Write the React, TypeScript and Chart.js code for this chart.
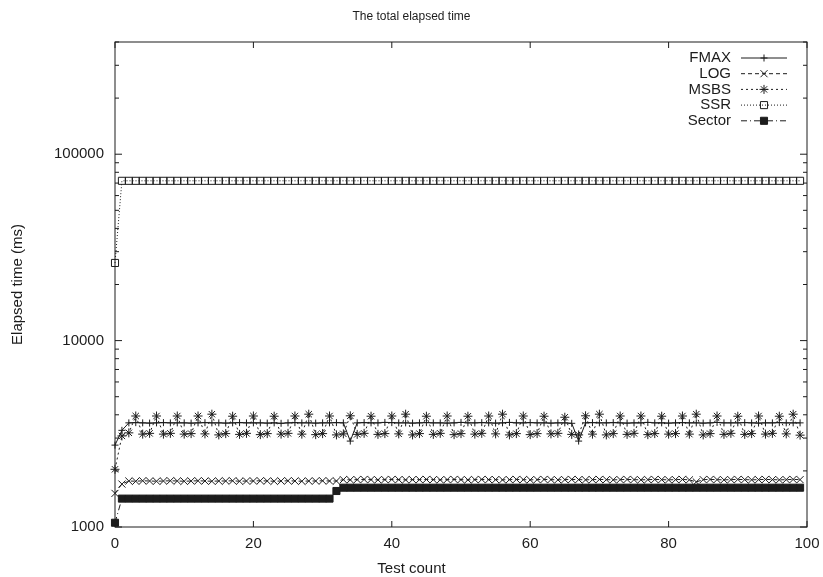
import React, { useEffect, useRef } from 'react';
import { Chart, registerables } from 'chart.js';

Chart.register(...registerables);

// ---------- data ----------
const testCount = [
  0, 1, 2, 3, 4, 5, 6, 7, 8, 9,
  10, 11, 12, 13, 14, 15, 16, 17, 18, 19,
  20, 21, 22, 23, 24, 25, 26, 27, 28, 29,
  30, 31, 32, 33, 34, 35, 36, 37, 38, 39,
  40, 41, 42, 43, 44, 45, 46, 47, 48, 49,
  50, 51, 52, 53, 54, 55, 56, 57, 58, 59,
  60, 61, 62, 63, 64, 65, 66, 67, 68, 69,
  70, 71, 72, 73, 74, 75, 76, 77, 78, 79,
  80, 81, 82, 83, 84, 85, 86, 87, 88, 89,
  90, 91, 92, 93, 94, 95, 96, 97, 98, 99,
];

const fmaxTimes = [
  2750, 3300, 3620, 3630, 3620, 3610, 3620, 3630, 3620, 3620,
  3620, 3610, 3620, 3630, 3620, 3620, 3610, 3620, 3630, 3620,
  3620, 3620, 3610, 3620, 3600, 3620, 3630, 3620, 3620, 3610,
  3620, 3620, 3630, 3620, 2890, 3620, 3630, 3620, 3620, 3640,
  3630, 3620, 3620, 3610, 3620, 3630, 3620, 3620, 3610, 3620,
  3640, 3620, 3620, 3630, 3620, 3610, 3620, 3640, 3620, 3620,
  3630, 3620, 3620, 3610, 3620, 3620, 3600, 2890, 3620, 3630,
  3620, 3620, 3630, 3620, 3610, 3620, 3620, 3640, 3620, 3620,
  3610, 3620, 3630, 3620, 3620, 3610, 3620, 3640, 3620, 3620,
  3620, 3630, 3620, 3610, 3620, 3620, 3630, 3620, 3620, 3620,
];

const logTimes = [
  1515, 1700, 1765, 1760, 1770, 1765, 1760, 1765, 1770, 1765,
  1760, 1765, 1770, 1765, 1760, 1765, 1765, 1770, 1760, 1765,
  1765, 1770, 1765, 1760, 1765, 1770, 1765, 1760, 1765, 1765,
  1770, 1765, 1765, 1795, 1790, 1795, 1800, 1795, 1790, 1795,
  1800, 1795, 1790, 1795, 1795, 1800, 1795, 1790, 1795, 1800,
  1795, 1790, 1795, 1800, 1795, 1795, 1790, 1795, 1800, 1795,
  1790, 1795, 1800, 1795, 1790, 1795, 1800, 1795, 1790, 1795,
  1800, 1795, 1790, 1795, 1800, 1795, 1790, 1795, 1800, 1795,
  1790, 1795, 1800, 1790, 1745, 1795, 1800, 1795, 1790, 1795,
  1800, 1795, 1790, 1795, 1800, 1795, 1790, 1795, 1800, 1795,
];

const msbsTimes = [
  2040, 3080, 3200, 3940, 3150, 3180, 3940, 3150, 3180, 3940,
  3150, 3170, 3940, 3160, 4030, 3120, 3170, 3930, 3140, 3180,
  3940, 3130, 3170, 3930, 3150, 3180, 3940, 3150, 4030, 3130,
  3170, 3940, 3120, 3160, 3950, 3140, 3180, 3930, 3140, 3170,
  3940, 3160, 4030, 3120, 3170, 3930, 3140, 3180, 3940, 3130,
  3170, 3930, 3150, 3180, 3940, 3160, 4030, 3120, 3170, 3940,
  3130, 3170, 3930, 3160, 3180, 3880, 3140, 3120, 3950, 3150,
  4030, 3120, 3170, 3940, 3140, 3180, 3940, 3130, 3170, 3930,
  3150, 3170, 3940, 3150, 4030, 3120, 3170, 3940, 3140, 3180,
  3930, 3140, 3170, 3940, 3150, 3180, 3930, 3160, 4030, 3110,
];

const ssrTimes = [
  26100, 72000, 72000, 72000, 72000, 72000, 72000, 72000, 72000, 72000,
  72000, 72000, 72000, 72000, 72000, 72000, 72000, 72000, 72000, 72000,
  72000, 72000, 72000, 72000, 72000, 72000, 72000, 72000, 72000, 72000,
  72000, 72000, 72000, 72000, 72000, 72000, 72000, 72000, 72000, 72000,
  72000, 72000, 72000, 72000, 72000, 72000, 72000, 72000, 72000, 72000,
  72000, 72000, 72000, 72000, 72000, 72000, 72000, 72000, 72000, 72000,
  72000, 72000, 72000, 72000, 72000, 72000, 72000, 72000, 72000, 72000,
  72000, 72000, 72000, 72000, 72000, 72000, 72000, 72000, 72000, 72000,
  72000, 72000, 72000, 72000, 72000, 72000, 72000, 72000, 72000, 72000,
  72000, 72000, 72000, 72000, 72000, 72000, 72000, 72000, 72000, 72000,
];

const sectorTimes = [
  1054, 1420, 1420, 1420, 1420, 1420, 1420, 1420, 1420, 1420,
  1420, 1420, 1420, 1420, 1420, 1420, 1420, 1420, 1420, 1420,
  1420, 1420, 1420, 1420, 1420, 1420, 1420, 1420, 1420, 1420,
  1420, 1420, 1560, 1625, 1625, 1625, 1625, 1625, 1625, 1625,
  1625, 1625, 1625, 1625, 1625, 1625, 1625, 1625, 1625, 1625,
  1625, 1625, 1625, 1625, 1625, 1625, 1625, 1625, 1625, 1625,
  1625, 1625, 1625, 1625, 1625, 1625, 1625, 1625, 1625, 1625,
  1625, 1625, 1625, 1625, 1625, 1625, 1625, 1625, 1625, 1625,
  1625, 1625, 1625, 1625, 1625, 1625, 1625, 1625, 1625, 1625,
  1625, 1625, 1625, 1625, 1625, 1625, 1625, 1625, 1625, 1625,
];

const seriesNames = ['FMAX', 'LOG', 'MSBS', 'SSR', 'Sector'];
const xTicks = [0, 20, 40, 60, 80, 100];
const yMajorTicks = [1000, 10000, 100000];
const yMinorSteps = [2, 3, 4, 5, 6, 7, 8, 9];
const yMin = 1000;
const yMax = 400000;

const chartTitle = 'The total elapsed time';
const xTitle = 'Test count';
const yTitle = 'Elapsed time (ms)';

// ---------- styles ----------
const FONT = '"Liberation Sans", Arial, Helvetica, sans-serif';
const INK = '#1c1c1c';

const yTickValues: number[] = [];
yMajorTicks.forEach((m) => {
  yTickValues.push(m);
  yMinorSteps.forEach((s) => {
    const v = m * s;
    if (v <= yMax) yTickValues.push(v);
  });
});

type MarkerStyle = { style: string; radius: number; fill: boolean };

function drawMarker(ctx: CanvasRenderingContext2D, m: MarkerStyle, x: number, y: number) {
  const r = m.radius;
  ctx.beginPath();
  if (m.style === 'cross' || m.style === 'star') {
    ctx.moveTo(x - r, y); ctx.lineTo(x + r, y);
    ctx.moveTo(x, y - r); ctx.lineTo(x, y + r);
  }
  if (m.style === 'crossRot' || m.style === 'star') {
    const o = Math.SQRT1_2 * r;
    ctx.moveTo(x - o, y - o); ctx.lineTo(x + o, y + o);
    ctx.moveTo(x - o, y + o); ctx.lineTo(x + o, y - o);
  }
  if (m.style === 'rect') {
    const h = Math.SQRT1_2 * r;
    ctx.rect(x - h, y - h, 2 * h, 2 * h);
    if (m.fill) ctx.fill();
  }
  ctx.stroke();
}

const markers: MarkerStyle[] = [
  { style: 'cross', radius: 3.5, fill: false },
  { style: 'crossRot', radius: 5, fill: false },
  { style: 'star', radius: 4.5, fill: false },
  { style: 'rect', radius: 5, fill: false },
  { style: 'rect', radius: 5, fill: true },
];
const dashes = [[], [4, 3], [2, 3], [1, 2], [6, 3, 1, 3]];

const framePlugin = {
  id: 'gnuFrame',
  beforeDatasetsDraw(chart: any) {
    const { ctx, chartArea } = chart;
    const { left, right, top, bottom } = chartArea;
    const x = chart.scales.x;
    const y = chart.scales.y;
    ctx.save();
    ctx.strokeStyle = INK;
    ctx.lineWidth = 1;
    ctx.setLineDash([]);
    ctx.strokeRect(left, top, right - left, bottom - top);
    ctx.beginPath();
    y.ticks.forEach((t: any) => {
      const py = y.getPixelForValue(t.value);
      const len = yMajorTicks.includes(t.value) ? 7 : 4;
      ctx.moveTo(left, py); ctx.lineTo(left + len, py);
      ctx.moveTo(right, py); ctx.lineTo(right - len, py);
    });
    x.ticks.forEach((t: any) => {
      const px = x.getPixelForValue(t.value);
      ctx.moveTo(px, bottom); ctx.lineTo(px, bottom - 6);
      ctx.moveTo(px, top); ctx.lineTo(px, top + 6);
    });
    ctx.stroke();
    ctx.restore();
  },
  afterDraw(chart: any) {
    const { ctx, chartArea } = chart;
    ctx.save();
    // x-axis title, centred on the canvas like gnuplot
    ctx.fillStyle = INK;
    ctx.font = `15px ${FONT}`;
    ctx.textAlign = 'center';
    ctx.textBaseline = 'middle';
    ctx.fillText(xTitle, chart.width / 2, 569);

    // legend (gnuplot style: text then sample)
    const textRight = chartArea.right - 76;
    const lineStart = chartArea.right - 66;
    const lineEnd = chartArea.right - 20;
    const top = chartArea.top + 16;
    const step = 15.7;
    chart.data.datasets.forEach((ds: any, i: number) => {
      const yy = top + i * step;
      ctx.fillStyle = INK;
      ctx.font = `15px ${FONT}`;
      ctx.textAlign = 'right';
      ctx.textBaseline = 'middle';
      ctx.fillText(ds.label, textRight, yy);
      ctx.strokeStyle = INK;
      ctx.lineWidth = 1;
      ctx.setLineDash(ds.borderDash || []);
      ctx.beginPath();
      ctx.moveTo(lineStart, yy);
      ctx.lineTo(lineEnd, yy);
      ctx.stroke();
      ctx.setLineDash([]);
      ctx.fillStyle = markers[i].fill ? INK : '#ffffff';
      drawMarker(ctx, markers[i], (lineStart + lineEnd) / 2, yy);
    });
    ctx.restore();
  },
};

const seriesValues = [fmaxTimes, logTimes, msbsTimes, ssrTimes, sectorTimes];

export default function App() {
  const canvasRef = useRef<HTMLCanvasElement | null>(null);

  useEffect(() => {
    const canvas = canvasRef.current;
    if (!canvas) return;
    const datasets = seriesNames.map((name, i) => ({
      label: name,
      data: seriesValues[i],
      borderColor: INK,
      borderWidth: 1,
      borderDash: dashes[i],
      pointStyle: markers[i].style,
      pointRadius: markers[i].radius,
      pointHoverRadius: markers[i].radius,
      pointBorderColor: INK,
      pointBorderWidth: 1,
      pointBackgroundColor: markers[i].fill ? INK : 'rgba(0,0,0,0)',
      backgroundColor: 'rgba(0,0,0,0)',
      fill: false,
      tension: 0,
      clip: false,
    }));

    const chart = new Chart(canvas, {
      type: 'line',
      data: { labels: testCount, datasets },
      options: {
        responsive: false,
        animation: false,
        devicePixelRatio: 1,
        layout: { padding: 0 },
        plugins: {
          legend: { display: false },
          tooltip: { enabled: false },
          title: {
            display: true,
            text: chartTitle,
            color: INK,
            font: { family: FONT, size: 12, weight: 'normal' },
            padding: { top: 9, bottom: 18.6 },
          },
        },
        scales: {
          x: {
            type: 'linear',
            min: 0,
            max: 100,
            afterFit: (s: any) => {
              s.height = 50;
              s.paddingLeft = 0;
              s.paddingRight = 0;
            },
            afterBuildTicks: (s: any) => { s.ticks = xTicks.map((v) => ({ value: v })); },
            ticks: {
              color: INK,
              font: { family: FONT, size: 15 },
              padding: 8,
              maxRotation: 0,
              autoSkip: false,
            },
            grid: { display: false, drawTicks: false, tickLength: 0 },
            border: { display: false },
          },
          y: {
            type: 'logarithmic',
            min: yMin,
            max: yMax,
            afterFit: (s: any) => {
              s.width = 115;
              s.paddingTop = 0;
              s.paddingBottom = 0;
            },
            afterBuildTicks: (s: any) => { s.ticks = yTickValues.map((v) => ({ value: v })); },
            ticks: {
              color: INK,
              font: { family: FONT, size: 15 },
              padding: 11,
              autoSkip: false,
              callback: (v: any) => (yMajorTicks.includes(Number(v)) ? String(v) : ''),
            },
            title: {
              display: true,
              text: yTitle,
              color: INK,
              font: { family: FONT, size: 15 },
              padding: { top: 9, bottom: 0 },
            },
            grid: { display: false, drawTicks: false, tickLength: 0 },
            border: { display: false },
          },
          yRight: {
            type: 'linear',
            position: 'right',
            display: true,
            afterFit: (s: any) => { s.width = 16; },
            ticks: { display: false },
            grid: { display: false, drawTicks: false, tickLength: 0 },
            border: { display: false },
          },
        },
      },
      plugins: [framePlugin],
    } as any);

    return () => chart.destroy();
  }, []);

  return (
    <div style={{ position: 'fixed', left: 0, top: 0, width: 823, height: 577, background: '#fff' }}>
      <canvas ref={canvasRef} width={823} height={577} style={{ display: 'block' }} />
    </div>
  );
}
